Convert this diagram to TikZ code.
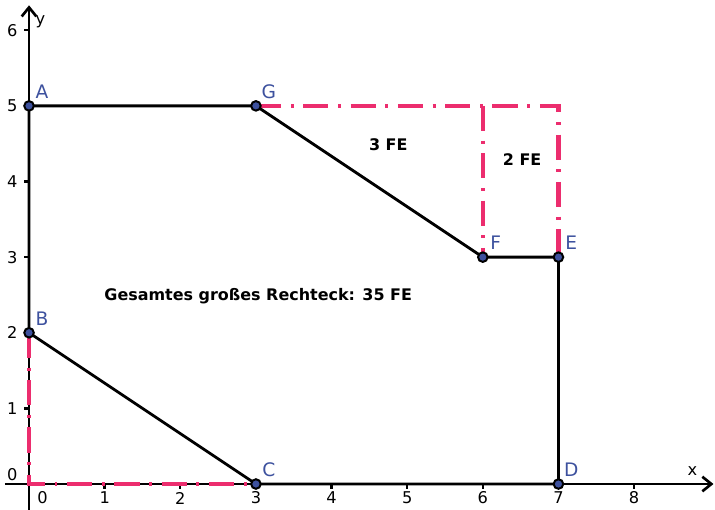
\documentclass[tikz,border=0pt]{standalone}
\usepackage{fontspec}
\setmainfont{DejaVu Sans}
\usetikzlibrary{arrows.meta,calc}
\definecolor{rand}{HTML}{EC2D6E}
\definecolor{punkt}{HTML}{3D519E}
\tikzset{
  achse/.style={line width=1pt,-{Straight Barb[length=3.4pt,width=5.5pt,line width=1pt]}},
  strich/.style={line width=0.9pt},
  hilfslinie/.style={rand,line width=1.6pt,dash pattern=on 9.5pt off 3.6pt on 1.1pt off 3.6pt},
  kante/.style={line width=1.05pt},
  punktstil/.style={draw=black,line width=0.75pt,fill=punkt},
  punktname/.style={punkt,font=\fontsize{7}{8}\selectfont},
  zahl/.style={font=\fontsize{6.1}{7}\selectfont},
  flaeche/.style={font=\fontsize{6}{7}\selectfont\bfseries}
}

\begin{document}
\begin{tikzpicture}[x=1cm,y=1cm]
  \useasboundingbox (-0.384,-0.343) rectangle (9.07,6.40);

  % Punkte
  \coordinate (A) at (0,5);
  \coordinate (B) at (0,2);
  \coordinate (C) at (3,0);
  \coordinate (D) at (7,0);
  \coordinate (E) at (7,3);
  \coordinate (F) at (6,3);
  \coordinate (G) at (3,5);
  \coordinate (O) at (0,0);
  \coordinate (H) at (7,5);
  \coordinate (K) at (6,5);

  % Achsen
  \coordinate (xa) at (-0.32,0);
  \coordinate (xe) at (9.05,0);
  \coordinate (ya) at (0,-0.343);
  \coordinate (ye) at (0,6.33);
  \draw[achse] (xa) -- (xe);
  \draw[achse] (ya) -- (ye);
  \node[zahl] (xname) at (8.77,0.17) {x};
  \node[zahl] (yname) at (0.15,6.11) {y};

  \foreach \x in {1,...,8} {
    \draw[strich] (\x,0) -- (\x,-0.07);
    \node[zahl] (tx\x) at (\x,-0.185) {\x};
  }
  \node[zahl] (tx0) at (0.18,-0.185) {0};
  \foreach \y in {1,...,6} {
    \draw[strich] (0,\y) -- (-0.07,\y);
    \node[zahl,anchor=east] (ty\y) at (-0.03,\y) {\y};
  }
  \node[zahl,anchor=east] (ty0) at (-0.03,0.12) {0};

  % Hilfslinien
  \draw[hilfslinie] (B) -- (O) -- (C);
  \draw[hilfslinie] (G) -- (H) -- (E);
  \draw[hilfslinie] (K) -- (F);

  % Polygon
  \draw[kante] (A) -- (G) -- (F) -- (E) -- (D) -- (C) -- (B) -- cycle;

  \foreach \p in {A,B,C,D,E,F,G} {
    \fill[punktstil] (\p) circle (1.8pt);
    \node[punktname] (n\p) at ($(\p)+(0.17,0.19)$) {\p};
  }

  % Flaechen
  \node[flaeche] (gesamt) at (3.03,2.49) {Gesamtes großes Rechteck: 35 FE};
  \node[flaeche] (drei) at (4.75,4.49) {3 FE};
  \node[flaeche] (zwei) at (6.52,4.29) {2 FE};
\end{tikzpicture}
\end{document}
